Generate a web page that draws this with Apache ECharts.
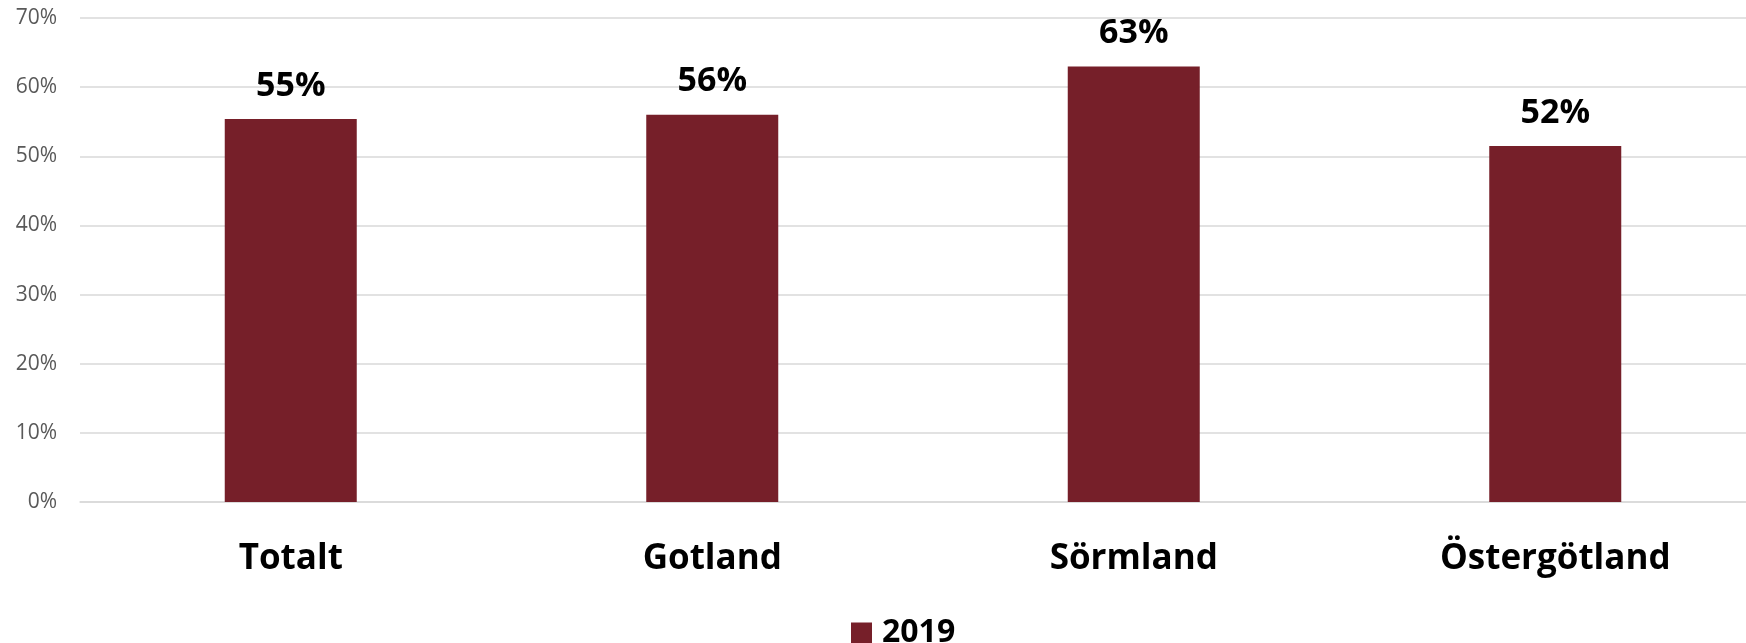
<!DOCTYPE html>
<html>
<head>
<meta charset="utf-8">
<script src="https://cdn.jsdelivr.net/npm/echarts@6/dist/echarts.min.js"></script>
<style>html,body{margin:0;padding:0;background:#fff;overflow:hidden}#c{width:1766px;height:643px}</style>
</head>
<body>
<div id="c"></div>
<script>
const categories = ['Totalt', 'Gotland', 'Sörmland', 'Östergötland'];
const values2019 = [55.4, 56.0, 63.0, 51.5];
const seriesName = '2019';
const yTicks = [0, 10, 20, 30, 40, 50, 60, 70];

const chart = echarts.init(document.getElementById('c'));
chart.setOption({
  animation: false,
  grid: { left: 80, right: 0, top: 18, bottom: 141, containLabel: false },
  legend: {
    data: [seriesName],
    left: 846, top: 612,
    itemWidth: 21, itemHeight: 21, itemGap: 10,
    icon: 'rect',
    textStyle: { fontFamily: 'Open Sans', fontWeight: 'bold', fontSize: 32, color: '#000', padding: [0, 0, 0, 5] }
  },
  xAxis: {
    type: 'category',
    data: categories,
    axisTick: { show: false },
    axisLine: { lineStyle: { color: '#d9d9d9', width: 1.5 } },
    axisLabel: { fontFamily: 'Open Sans', fontWeight: 'bold', fontSize: 35, color: '#000', margin: 40 }
  },
  yAxis: {
    type: 'value',
    min: yTicks[0], max: yTicks[yTicks.length - 1], interval: 10,
    axisLine: { show: false },
    axisTick: { show: false },
    splitLine: { lineStyle: { color: '#d9d9d9', width: 1.5 } },
    axisLabel: { formatter: v => v + '%', fontFamily: 'Open Sans', fontSize: 21, color: '#595959', margin: 23 }
  },
  series: [{
    name: seriesName,
    type: 'bar',
    data: values2019,
    barWidth: 132,
    itemStyle: { color: '#761F29' },
    label: {
      show: true, position: 'top', distance: 16,
      formatter: p => Math.round(p.value) + '%',
      fontFamily: 'Open Sans', fontWeight: 'bold', fontSize: 34, color: '#000'
    }
  }]
});
</script>
</body>
</html>
